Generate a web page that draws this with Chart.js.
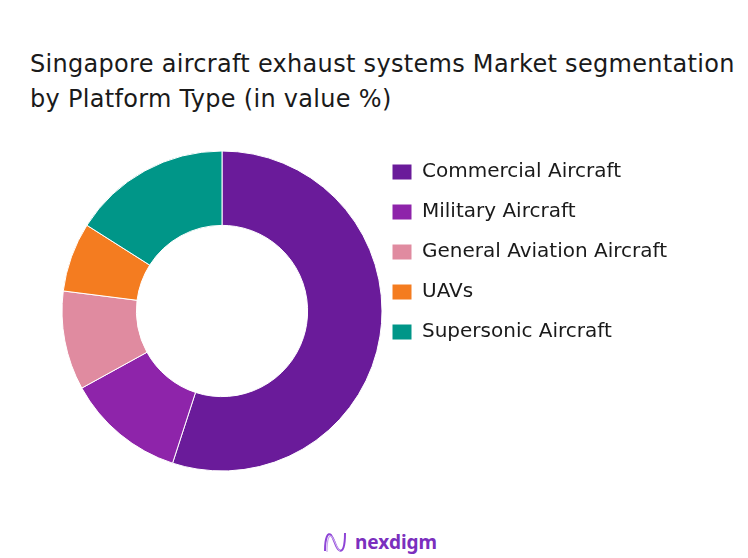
<!DOCTYPE html>
<html>
<head>
<meta charset="utf-8">
<script src="https://cdn.jsdelivr.net/npm/chart.js@4.4.1/dist/chart.umd.min.js"></script>
<style>
  html, body { margin: 0; padding: 0; background: #fff; }
  body { width: 748px; height: 558px; position: relative; overflow: hidden; font-family: "DejaVu Sans", sans-serif; }
  #title {
    position: absolute; left: 30px; top: 47px;
    font-size: 24px; line-height: 35px; color: #1a1a1a; letter-spacing: 0.3px;
  }
  #wrap { position: absolute; left: 0; top: 142px; width: 748px; height: 338px; }
  #logo { position: absolute; left: 322px; top: 529px; display: flex; align-items: center; gap: 7px; }
  #logo span { font-family: "Noto Sans", sans-serif; font-size: 19px; font-weight: 700; color: #7b2fbe; }
</style>
</head>
<body>
<div id="title">Singapore aircraft exhaust systems Market segmentation<br>by Platform Type (in value %)</div>
<div id="wrap"><canvas id="platformChart"></canvas></div>
<div id="logo">
  <svg width="26" height="26" viewBox="0 0 26 26">
    <path d="M3 22 C3 8, 6 3, 9 6 C13 11, 13 18, 17 21 C21 24, 23 17, 23 4" fill="none" stroke="#8e44d6" stroke-width="2"/>
    <path d="M5 23 C5 10, 7 5, 10 8 C14 13, 14 19, 18 22" fill="none" stroke="#c9a6ef" stroke-width="1.2"/>
  </svg>
  <span>nexdigm</span>
</div>
<script>
// Platform type split (share of value, %)
const platformLabels = ['Commercial Aircraft', 'Military Aircraft', 'General Aviation Aircraft', 'UAVs', 'Supersonic Aircraft'];
const platformShares = [55, 12, 10, 7, 16];
const platformColors = ['#6a1b9a', '#8e24aa', '#e08ba0', '#f47c20', '#009688'];

const LEGEND_LEFT = 372;  // swatches start at LEGEND_LEFT + padding = 392

// Pin the legend's width so it always starts at LEGEND_LEFT,
// whatever the label widths come out as.
const fixedLegend = {
    id: 'fixedLegend',
    beforeLayout(chart) {
        const legend = chart.legend;
        if (!legend || legend._pinned) return;
        const origFit = legend.fit;
        legend.fit = function () {
            origFit.call(this);
            this.width = chart.width - LEGEND_LEFT;
        };
        legend._pinned = true;
    }
};

const ctx = document.getElementById('platformChart');

new Chart(ctx, {
    type: 'doughnut',
    data: {
        labels: platformLabels,
        datasets: [{
            data: platformShares,
            backgroundColor: platformColors,
            borderColor: '#ffffff',
            borderWidth: 1,
            radius: 160,
            cutout: 80,
            clip: false
        }]
    },
    options: {
        responsive: true,
        maintainAspectRatio: false,
        animation: false,
        layout: { padding: { left: 72 } },
        plugins: {
            legend: {
                position: 'right',
                align: 'start',
                labels: {
                    boxWidth: 20,
                    boxHeight: 16,
                    padding: 20,
                    color: '#1a1a1a',
                    font: { family: 'DejaVu Sans', size: 20 }
                }
            },
            tooltip: { enabled: false }
        }
    },
    plugins: [fixedLegend]
});
</script>
</body>
</html>
